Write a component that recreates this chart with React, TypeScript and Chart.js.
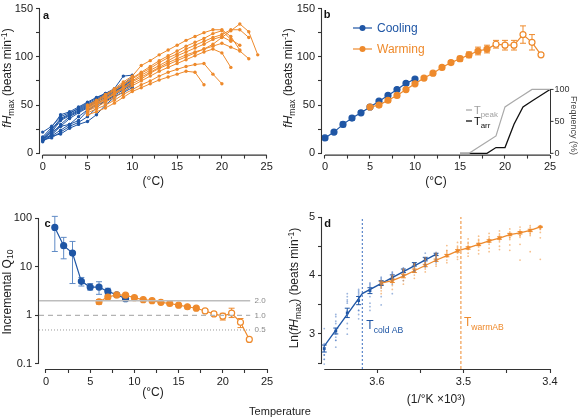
import React, { useEffect, useRef } from 'react';
import { Chart, registerables } from 'chart.js';
Chart.register(...registerables);

const BLUE = '#1f56a5';
const ORANGE = '#ee8a2c';
const EBLUE = '#5f8bc6';
const AX = '#333333';
const TXT = '#222222';
const FONT = "'Liberation Sans Narrow', 'Liberation Sans', Arial, sans-serif";
Chart.defaults.font.family = FONT;

// ---------- Panel a: individual fish ----------
const coolTemps = [0, 1, 2, 3, 4, 5, 6, 7, 8, 9, 10];
const coolFish01 = [22, 28, 38, 42, 46, 51, 55, 60, 65, 69, 74];
const coolFish02 = [17, 27, 40, 43, 48, 53, 58, 62, 67, 80, 81];
const coolFish03 = [16, 25, 36, 41, 47, 52, 57, 62, 66, 72, 79];
const coolFish04 = [15, 24, 35, 40, 45, 50, 56, 61, 66, 71, 77];
const coolFish05 = [14, 22, 34, 39, 44, 49, 55, 60, 65, 70, 76];
const coolFish06 = [13, 20, 30, 38, 43, 48, 54, 59, 64, 69, 75];
const coolFish07 = [12, 19, 28, 36, 42, 47, 53, 58, 63, 68, 73];
const coolFish08 = [16, 18, 24, 30, 38, 45, 51, 57, 62, 67, 72];
const coolFish09 = [14, 16, 22, 28, 32, 38, 47, 55, 60, 66, 71];
const coolFish10 = [13, 18, 20, 26, 30, 33, 40, 50, 58, 64, 70];
const coolFish11 = [15, 22, 28, 30, 34, 44, 50, 54, 59, 63, 68];
const coolFishAll = [coolFish01, coolFish02, coolFish03, coolFish04, coolFish05, coolFish06, coolFish07, coolFish08, coolFish09, coolFish10, coolFish11];

const warmTemps = [5, 6, 7, 8, 9, 10, 11, 12, 13, 14, 15, 16, 17, 18, 19, 20, 21, 22, 23, 24];
const warmFish01 = [40, 43, 47, 52, 58, 64, 68, 72, 76, 79, 82, 85, 84, 71];
const warmFish02 = [42, 46, 50, 55, 61, 66, 71, 75, 80, 84, 87, 90, 92, 93, 82, 72];
const warmFish03 = [44, 48, 53, 58, 64, 70, 75, 80, 85, 89, 93, 97, 101, 105, 108, 104, 89];
const warmFish04 = [45, 50, 55, 61, 67, 72, 77, 83, 88, 92, 96, 100, 104, 108, 111, 114, 110, 106, 98];
const warmFish05 = [47, 52, 57, 63, 68, 74, 79, 84, 89, 94, 98, 102, 105, 108, 113, 120, 127, 134, 126, 102];
const warmFish06 = [50, 55, 61, 67, 74, 80, 91, 96, 102, 107, 112, 117, 121, 125, 128, 128, 121, 107];
const warmFish07 = [48, 53, 59, 65, 71, 77, 83, 88, 94, 99, 103, 108, 112, 116, 120, 123, 128, 128, 120];
const warmFish08 = [46, 51, 56, 62, 68, 75, 81, 86, 91, 96, 101, 105, 109, 113, 118, 121, 116];
const warmFish09 = [49, 54, 60, 66, 72, 78, 84, 90, 96, 101, 106, 111, 115, 119, 124, 127, 118, 112];
const warmFishAll = [warmFish01, warmFish02, warmFish03, warmFish04, warmFish05, warmFish06, warmFish07, warmFish08, warmFish09];

// ---------- Panel b: means ----------
const bCoolMean = [16, 22, 30, 36.5, 42, 48, 54, 60, 66, 72.5, 77];
const bCoolErr = [1, 1.2, 2.5, 2, 2, 2, 1.5, 1.5, 1.5, 1.5, 1.5];
const bWarmMean = [48, 50, 55, 60, 66, 72, 78, 83, 89, 94, 98, 102, 106, 108, 113, 112, 112, 123, 115, 102];
const bWarmErr = [1, 1.5, 1.5, 1.5, 1.5, 1.5, 1.5, 1.5, 1.5, 2, 2.5, 3, 4, 4, 4, 5, 5, 9, 8, 0];
const bOpenFrom = 19;
const freqTemps = [15, 16, 17, 18, 19, 20, 21, 22, 23, 24, 25];
const tPeakFreq = [0, 0, 9.1, 18.2, 27.3, 72.7, 81.8, 90.9, 100, 100, 100];
const tArrFreq = [0, 0, 0, 0, 9.1, 9.1, 45.5, 72.7, 81.8, 90.9, 100];
const freqTicks = [0, 50, 100];

// ---------- Panel c: incremental Q10 ----------
const cCoolTemps = [1, 2, 3, 4, 5, 6, 7, 8, 9];
const cCoolQ10 = [64, 27, 19, 5.0, 3.8, 3.8, 3.1, 2.65, 2.2];
const cCoolHi = [108, 40, 33, 6.0, 4.5, 4.9, 3.6, 2.8, 2.3];
const cCoolLo = [20.5, 14.5, 4.5, 4.0, 3.3, 2.7, 2.7, 2.5, 2.1];
const cWarmTemps = [6, 7, 8, 9, 10, 11, 12, 13, 14, 15, 16, 17, 18, 19, 20, 21, 22, 23];
const cWarmQ10 = [1.9, 2.38, 2.62, 2.6, 2.3, 2.1, 2.0, 1.85, 1.75, 1.62, 1.5, 1.4, 1.23, 1.07, 0.96, 1.11, 0.72, 0.32];
const cWarmHi = [2.1, 2.6, 2.7, 2.7, 2.4, 2.15, 2.05, 1.9, 1.8, 1.67, 1.55, 1.48, 1.3, 1.16, 1.1, 1.4, 0.86, 0.32];
const cWarmLo = [1.7, 2.2, 2.55, 2.5, 2.2, 2.05, 1.95, 1.8, 1.7, 1.57, 1.45, 1.32, 1.16, 0.99, 0.8, 0.9, 0.56, 0.32];
const cOpenFrom = 18;
const cRefLevels = [2.0, 1.0, 0.5];
const cRefLabels = ['2.0', '1.0', '0.5'];

// ---------- Panel d: Arrhenius ----------
const dCoolTemps = [0, 1, 2, 3, 4, 5, 6, 7, 8, 9, 10];
const dCoolLn = [2.75, 3.05, 3.36, 3.57, 3.74, 3.87, 3.97, 4.08, 4.19, 4.28, 4.36];
const dCoolErr = [0.06, 0.05, 0.08, 0.07, 0.05, 0.04, 0.04, 0.03, 0.03, 0.03, 0.02];
const dWarmTemps = [5, 6, 7, 8, 9, 10, 11, 12, 13, 14, 15, 16, 17, 18, 19, 20];
const dWarmLn = [3.87, 3.91, 3.99, 4.08, 4.17, 4.26, 4.34, 4.42, 4.47, 4.53, 4.59, 4.64, 4.70, 4.73, 4.77, 4.83];
const dWarmErr = [0.03, 0.03, 0.03, 0.03, 0.02, 0.02, 0.02, 0.02, 0.02, 0.02, 0.02, 0.02, 0.02, 0.02, 0.02, 0.01];
const coldFitX = [3.661, 3.617, 3.532];
const coldFitLn = [2.79, 3.69, 4.36];
const tColdAB = 3.617;
const tWarmAB = 3.503;

const invK = (t: number) => 1000 / (t + 273.15);
const pts = (xs: number[], ys: number[]) => ys.map((y, i) => ({ x: xs[i], y }));

// ---------- helpers ----------
type Frame = { W: number; H: number; L: number; T: number; R: number; B: number };

function baseOptions(f: Frame): any {
  return {
    responsive: false,
    maintainAspectRatio: false,
    animation: false,
    devicePixelRatio: 1,
    events: [],
    layout: { padding: { left: 0, top: f.T, right: f.W - f.R, bottom: 0 } },
    plugins: { legend: { display: false }, tooltip: { enabled: false } },
  };
}

const tickFont = { family: FONT, size: 11, lineHeight: 1 };

function xAxis(f: Frame, min: number, max: number, ticks: number[], label: (v: number) => string, title: string, titleY: number, extra: any = {}) {
  return {
    type: 'linear',
    position: 'bottom',
    min,
    max,
    afterBuildTicks: (s: any) => { s.ticks = ticks.map((v) => ({ value: v })); },
    afterFit: (s: any) => { s.height = f.H - f.B; },
    grid: { display: true, drawOnChartArea: false, drawTicks: true, tickLength: 4, color: AX, tickWidth: 1.1 },
    border: { display: false },
    ticks: { font: tickFont, color: TXT, padding: 3, maxRotation: 0, autoSkip: false, callback: (v: any) => label(Number(v)) },
    title: { display: true, text: title, font: { family: FONT, size: 12, lineHeight: 1.2 }, color: TXT, padding: { top: 0, bottom: f.H - titleY - 7.2 } },
    ...extra,
  };
}

function yAxis(f: Frame, min: number, max: number, ticks: number[], label: (v: number) => string, extra: any = {}) {
  return {
    type: 'linear',
    position: 'left',
    min,
    max,
    afterBuildTicks: (s: any) => { s.ticks = ticks.map((v) => ({ value: v })); },
    afterFit: (s: any) => { s.width = f.L; },
    grid: { display: true, drawOnChartArea: false, drawTicks: true, tickLength: 4, color: AX, tickWidth: 1.1 },
    border: { display: false },
    ticks: { font: tickFont, color: TXT, padding: 3, autoSkip: false, callback: (v: any) => label(Number(v)) },
    title: { display: false },
    ...extra,
  };
}

function prism(xr: number[], yr: number[]) {
  return {
    id: 'prism',
    beforeDatasetsDraw(chart: any) {
      const { ctx, chartArea } = chart;
      const xs = chart.scales.x, ys = chart.scales.y;
      ctx.save();
      ctx.strokeStyle = AX;
      ctx.lineWidth = 1.1;
      ctx.beginPath();
      ctx.moveTo(xs.getPixelForValue(xr[0]), chartArea.bottom + 0.5);
      ctx.lineTo(xs.getPixelForValue(xr[1]), chartArea.bottom + 0.5);
      ctx.moveTo(chartArea.left - 0.5, ys.getPixelForValue(yr[0]));
      ctx.lineTo(chartArea.left - 0.5, ys.getPixelForValue(yr[1]));
      ctx.stroke();
      ctx.restore();
    },
  };
}

const errorBars = {
  id: 'errbars',
  beforeDatasetsDraw(chart: any) {
    const ctx = chart.ctx;
    chart.data.datasets.forEach((ds: any) => {
      if (!ds.errLo) return;
      const xs = chart.scales[ds.xAxisID || 'x'];
      const ys = chart.scales[ds.yAxisID || 'y'];
      ctx.save();
      ctx.strokeStyle = ds.errColor || ds.borderColor;
      ctx.lineWidth = 1;
      const cap = ds.errCap || 3;
      ds.data.forEach((p: any, j: number) => {
        const lo = ds.errLo[j], hi = ds.errHi[j];
        if (lo == null || hi == null) return;
        const px = xs.getPixelForValue(p.x);
        const y1 = ys.getPixelForValue(lo), y2 = ys.getPixelForValue(hi);
        if (Math.abs(y1 - y2) < 1) return;
        ctx.beginPath();
        ctx.moveTo(px, y1); ctx.lineTo(px, y2);
        ctx.moveTo(px - cap, y1); ctx.lineTo(px + cap, y1);
        ctx.moveTo(px - cap, y2); ctx.lineTo(px + cap, y2);
        ctx.stroke();
      });
      ctx.restore();
    });
  },
};

type Part = [string, string];
function richText(ctx: CanvasRenderingContext2D, parts: Part[], x: number, y: number, size: number, color: string) {
  let cx = x;
  ctx.save();
  ctx.fillStyle = color;
  ctx.textAlign = 'left';
  ctx.textBaseline = 'alphabetic';
  for (const [t, k] of parts) {
    const small = k === 'sub' || k === 'sup';
    const fs = small ? size * 0.72 : size;
    ctx.font = `${k === 'i' ? 'italic ' : ''}${k === 'b' ? 'bold ' : ''}${fs}px ${FONT}`;
    const dy = k === 'sub' ? size * 0.3 : k === 'sup' ? -size * 0.4 : 0;
    ctx.fillText(t, cx, y + dy);
    cx += ctx.measureText(t).width;
  }
  ctx.restore();
}

function letter(ctx: CanvasRenderingContext2D, t: string, x: number, y: number) {
  ctx.save();
  ctx.font = `bold 11px ${FONT}`;
  ctx.fillStyle = '#111';
  ctx.textAlign = 'center';
  ctx.textBaseline = 'middle';
  ctx.fillText(t, x, y);
  ctx.restore();
}

const fiveLabel = (v: number) => (Math.abs(v % 5) < 1e-9 ? String(v) : '');
const fiftyLabel = (v: number) => (Math.abs(v % 50) < 1e-9 ? String(v) : '');
const tempTicks = [0, 2.5, 5, 7.5, 10, 12.5, 15, 17.5, 20, 22.5, 25];
const bpmTicks = [0, 25, 50, 75, 100, 125, 150];

// ---------- chart builders ----------
const fA: Frame = { W: 290, H: 200, L: 40, T: 6, R: 266.7, B: 154.6 };
function buildA(): any {
  const ds: any[] = [];
  warmFishAll.forEach((s) => ds.push({ data: pts(warmTemps, s), showLine: true, borderColor: ORANGE, backgroundColor: ORANGE, borderWidth: 1, pointRadius: 1.7, pointBorderWidth: 0 }));
  coolFishAll.forEach((s) => ds.push({ data: pts(coolTemps, s), showLine: true, borderColor: BLUE, backgroundColor: BLUE, borderWidth: 1, pointRadius: 1.7, pointBorderWidth: 0 }));
  const opts = baseOptions(fA);
  opts.scales = {
    x: xAxis(fA, -0.3, 25, tempTicks, fiveLabel, '(°C)', 182),
    y: yAxis(fA, -1.3, 150, bpmTicks, fiftyLabel),
  };
  return {
    type: 'scatter',
    data: { datasets: ds },
    options: opts,
    plugins: [prism([0, 25], [0, 150]), { id: 'annA', afterDraw(c: any) { letter(c.ctx, 'a', 46, 15.5); } }],
  };
}

const fB: Frame = { W: 288, H: 200, L: 32, T: 6, R: 260, B: 154.6 };
function buildB(): any {
  const opts = baseOptions(fB);
  opts.scales = {
    x: xAxis(fB, -0.333, 25, tempTicks, fiveLabel, '(°C)', 182),
    y: yAxis(fB, -1.3, 150, bpmTicks, fiftyLabel),
    y2: { type: 'linear', display: false, min: -1.96, max: 226.6 },
  };
  const ds: any[] = [
    { data: pts(freqTemps, tPeakFreq), yAxisID: 'y2', showLine: true, borderColor: '#a9a9a9', borderWidth: 1.2, pointRadius: 0 },
    { data: pts(freqTemps, tArrFreq), yAxisID: 'y2', showLine: true, borderColor: '#111111', borderWidth: 1.3, pointRadius: 0 },
    {
      data: pts(warmTemps, bWarmMean), showLine: true, borderColor: ORANGE, borderWidth: 1.2,
      pointRadius: 3, pointBorderWidth: 1.2, pointBorderColor: ORANGE,
      pointBackgroundColor: warmTemps.map((t) => (t >= bOpenFrom ? '#ffffff' : ORANGE)),
      errLo: bWarmMean.map((m, i) => m - bWarmErr[i]), errHi: bWarmMean.map((m, i) => m + bWarmErr[i]), errColor: ORANGE,
    },
    {
      data: pts(coolTemps, bCoolMean), showLine: true, borderColor: BLUE, borderWidth: 1.2,
      pointRadius: 3, pointBorderWidth: 1.2, pointBorderColor: BLUE, pointBackgroundColor: BLUE,
      errLo: bCoolMean.map((m, i) => m - bCoolErr[i]), errHi: bCoolMean.map((m, i) => m + bCoolErr[i]), errColor: EBLUE,
    },
  ];
  const ann = {
    id: 'annB',
    afterDraw(c: any) {
      const ctx = c.ctx as CanvasRenderingContext2D;
      letter(ctx, 'b', 37, 15);
      // legend
      const leg: [string, string, number][] = [['Cooling', BLUE, 28], ['Warming', ORANGE, 49]];
      leg.forEach(([t, col, y]) => {
        ctx.save();
        ctx.strokeStyle = col; ctx.fillStyle = col; ctx.lineWidth = 1.2;
        ctx.beginPath(); ctx.moveTo(63, y); ctx.lineTo(82, y); ctx.stroke();
        ctx.beginPath(); ctx.arc(72.5, y, 3, 0, Math.PI * 2); ctx.fill();
        ctx.font = `12px ${FONT}`; ctx.textAlign = 'left'; ctx.textBaseline = 'middle';
        ctx.fillText(t, 87, y + 0.5);
        ctx.restore();
      });
      // inset frequency axis
      const xs = c.scales.x, y2 = c.scales.y2;
      const ax = xs.getPixelForValue(25);
      ctx.save();
      ctx.strokeStyle = AX; ctx.lineWidth = 1;
      ctx.beginPath();
      ctx.moveTo(ax + 0.5, y2.getPixelForValue(0)); ctx.lineTo(ax + 0.5, y2.getPixelForValue(100));
      freqTicks.forEach((v) => { const py = y2.getPixelForValue(v); ctx.moveTo(ax, py); ctx.lineTo(ax + 3.5, py); });
      ctx.stroke();
      ctx.font = `9px ${FONT}`; ctx.fillStyle = '#333'; ctx.textAlign = 'left'; ctx.textBaseline = 'middle';
      freqTicks.forEach((v) => ctx.fillText(String(v), ax + 4.5, y2.getPixelForValue(v)));
      ctx.translate(283.5, y2.getPixelForValue(50) + 4);
      ctx.rotate(Math.PI / 2);
      ctx.textAlign = 'center';
      ctx.font = `9px ${FONT}`;
      ctx.fillStyle = '#444';
      ctx.fillText('Frequency (%)', 0, 0);
      ctx.restore();
      // inset legend
      ctx.save();
      ctx.lineWidth = 1.3;
      ctx.strokeStyle = '#a9a9a9';
      ctx.beginPath(); ctx.moveTo(176, 110); ctx.lineTo(182, 110); ctx.stroke();
      ctx.strokeStyle = '#111';
      ctx.beginPath(); ctx.moveTo(176, 121); ctx.lineTo(182, 121); ctx.stroke();
      ctx.restore();
      richText(ctx, [['T', 'n'], ['peak', 'sub']], 184, 114, 11, '#a0a0a0');
      richText(ctx, [['T', 'n'], ['arr', 'sub']], 184, 125, 11, '#111');
    },
  };
  return { type: 'scatter', data: { datasets: ds }, options: opts, plugins: [prism([0, 25], [0, 150]), errorBars, ann] };
}

const fC: Frame = { W: 290, H: 217, L: 39, T: 18, R: 267, B: 169 };
function buildC(): any {
  const opts = baseOptions(fC);
  opts.scales = {
    x: xAxis(fC, -0.79, 25, tempTicks, fiveLabel, '(°C)', 193),
    y: yAxis(fC, 0.0789, 100, [0.1, 1, 10, 100], (v) => String(v), { type: 'logarithmic' }),
  };
  const refStyles = [
    { color: '#bdbdbd', width: 1.6, dash: [] as number[] },
    { color: '#b3b3b3', width: 1.4, dash: [5, 4] },
    { color: '#9a9a9a', width: 1, dash: [1, 2] },
  ];
  const ds: any[] = cRefLevels.map((lv, i) => ({
    data: pts([-0.79, 23.1], [lv, lv]), showLine: true, borderColor: refStyles[i].color, borderWidth: refStyles[i].width, borderDash: refStyles[i].dash, pointRadius: 0,
  }));
  ds.push({
    data: pts(cWarmTemps, cWarmQ10), showLine: true, borderColor: ORANGE, borderWidth: 1.2,
    pointRadius: 3, pointBorderWidth: 1.2, pointBorderColor: ORANGE,
    pointBackgroundColor: cWarmTemps.map((t) => (t >= cOpenFrom ? '#ffffff' : ORANGE)),
    errLo: cWarmLo, errHi: cWarmHi, errColor: ORANGE,
  });
  ds.push({
    data: pts(cCoolTemps, cCoolQ10), showLine: true, borderColor: BLUE, borderWidth: 1.2,
    pointRadius: 3, pointBorderWidth: 1.2, pointBorderColor: BLUE, pointBackgroundColor: BLUE,
    errLo: cCoolLo, errHi: cCoolHi, errColor: EBLUE,
  });
  const ann = {
    id: 'annC',
    afterDraw(c: any) {
      const ctx = c.ctx as CanvasRenderingContext2D;
      letter(ctx, 'c', 47.5, 24);
      ctx.save();
      ctx.font = `8px ${FONT}`; ctx.fillStyle = '#8a8a8a'; ctx.textAlign = 'left'; ctx.textBaseline = 'middle';
      cRefLevels.forEach((lv, i) => ctx.fillText(cRefLabels[i], c.scales.x.getPixelForValue(23.6), c.scales.y.getPixelForValue(lv)));
      ctx.restore();
    },
  };
  return { type: 'scatter', data: { datasets: ds }, options: opts, plugins: [prism([0, 25], [0.1, 100]), errorBars, ann] };
}

const fD: Frame = { W: 288, H: 217, L: 32, T: 17, R: 260, B: 169 };
function buildD(): any {
  const opts = baseOptions(fD);
  const dxTicks = [3.4, 3.45, 3.5, 3.55, 3.6];
  opts.scales = {
    x: xAxis(fD, 3.4, invK(0) + 0.0026, dxTicks, (v) => (Math.abs(v * 10 - Math.round(v * 10)) < 1e-6 ? v.toFixed(1) : ''), '(1/°K ×10³)', 200, { reverse: true }),
    y: yAxis(fD, 2.4, 5, [2.5, 3, 3.5, 4, 4.5, 5], (v) => (Math.abs(v - Math.round(v)) < 1e-9 ? String(v) : '')),
  };
  const blueDots: any[] = [];
  coolFishAll.forEach((s) => s.forEach((v, i) => blueDots.push({ x: invK(coolTemps[i]), y: Math.log(v) })));
  const orangeDots: any[] = [];
  warmFishAll.forEach((s) => s.forEach((v, i) => { if (warmTemps[i] <= 20) orangeDots.push({ x: invK(warmTemps[i]), y: Math.log(v) }); }));
  const ds: any[] = [
    { data: pts([tColdAB, tColdAB], [2.4, 5]), showLine: true, borderColor: '#3b6fc0', borderWidth: 1, borderDash: [2, 2], pointRadius: 0 },
    { data: pts([tWarmAB, tWarmAB], [2.4, 5]), showLine: true, borderColor: ORANGE, borderWidth: 1, borderDash: [3, 2], pointRadius: 0 },
    { data: orangeDots, showLine: false, pointRadius: 0.9, pointBorderWidth: 0, backgroundColor: 'rgba(238,138,44,0.55)' },
    { data: blueDots, showLine: false, pointRadius: 0.9, pointBorderWidth: 0, backgroundColor: 'rgba(60,110,190,0.5)' },
    {
      data: pts(dWarmTemps.map(invK), dWarmLn), showLine: true, borderColor: ORANGE, borderWidth: 1.3,
      pointStyle: 'rect', pointRadius: 2, pointBorderWidth: 0, backgroundColor: ORANGE,
      errLo: dWarmLn.map((m, i) => m - dWarmErr[i]), errHi: dWarmLn.map((m, i) => m + dWarmErr[i]), errColor: ORANGE, errCap: 2.5,
    },
    { data: pts(coldFitX, coldFitLn), showLine: true, borderColor: BLUE, borderWidth: 1.3, pointRadius: 0 },
    {
      data: pts(dCoolTemps.map(invK), dCoolLn), showLine: false, borderColor: BLUE,
      pointStyle: 'rect', pointRadius: 2, pointBorderWidth: 0, backgroundColor: BLUE,
      errLo: dCoolLn.map((m, i) => m - dCoolErr[i]), errHi: dCoolLn.map((m, i) => m + dCoolErr[i]), errColor: BLUE, errCap: 2.5,
    },
  ];
  const ann = {
    id: 'annD',
    afterDraw(c: any) {
      const ctx = c.ctx as CanvasRenderingContext2D;
      letter(ctx, 'd', 37.5, 24);
      const xs = c.scales.x;
      richText(ctx, [['T', 'n'], ['cold AB', 'sub']], xs.getPixelForValue(tColdAB) + 4, 129, 12, BLUE);
      richText(ctx, [['T', 'n'], ['warmAB', 'sub']], xs.getPixelForValue(tWarmAB) + 3, 126, 12, ORANGE);
    },
  };
  return { type: 'scatter', data: { datasets: ds }, options: opts, plugins: [prism([invK(0), 3.4], [2.5, 5]), errorBars, ann] };
}

function Panel({ x, y, w, h, build }: { x: number; y: number; w: number; h: number; build: () => any }) {
  const ref = useRef<HTMLCanvasElement>(null);
  useEffect(() => {
    const chart = new Chart(ref.current as HTMLCanvasElement, build());
    return () => chart.destroy();
  }, []);
  return <canvas ref={ref} width={w} height={h} style={{ position: 'absolute', left: x, top: y, width: w, height: h }} />;
}

const subS: React.CSSProperties = { fontSize: '0.72em', verticalAlign: '-0.3em' };
const supS: React.CSSProperties = { fontSize: '0.72em', verticalAlign: '0.45em' };

function VLabel({ x, y, children }: { x: number; y: number; children: any }) {
  return (
    <div style={{ position: 'absolute', left: x, top: y, transform: 'translate(-50%, -50%) rotate(-90deg)', whiteSpace: 'nowrap', fontFamily: FONT, fontSize: 12, color: TXT, lineHeight: 1 }}>
      {children}
    </div>
  );
}

export default function App() {
  const fhLabel = (
    <>
      <i>fH</i><span style={subS}>max</span> (beats min<span style={supS}>-1</span>)
    </>
  );
  return (
    <div style={{ position: 'fixed', left: 0, top: 0, width: 578, height: 417, background: '#ffffff', overflow: 'hidden' }}>
      <Panel x={0} y={0} w={290} h={200} build={buildA} />
      <Panel x={290} y={0} w={288} h={200} build={buildB} />
      <Panel x={0} y={200} w={290} h={217} build={buildC} />
      <Panel x={290} y={200} w={288} h={217} build={buildD} />
      <VLabel x={8} y={78}>{fhLabel}</VLabel>
      <VLabel x={289} y={78}>{fhLabel}</VLabel>
      <VLabel x={8} y={292}>Incremental Q<span style={subS}>10</span></VLabel>
      <VLabel x={295} y={288}>
        Ln(<i>fH</i><span style={subS}>max</span>) (beats min<span style={supS}>-1</span>)
      </VLabel>
      <div style={{ position: 'absolute', left: 280, top: 411, transform: 'translate(-50%, -50%)', fontFamily: FONT, fontSize: 11, color: TXT, whiteSpace: 'nowrap', lineHeight: 1 }}>
        Temperature
      </div>
    </div>
  );
}
